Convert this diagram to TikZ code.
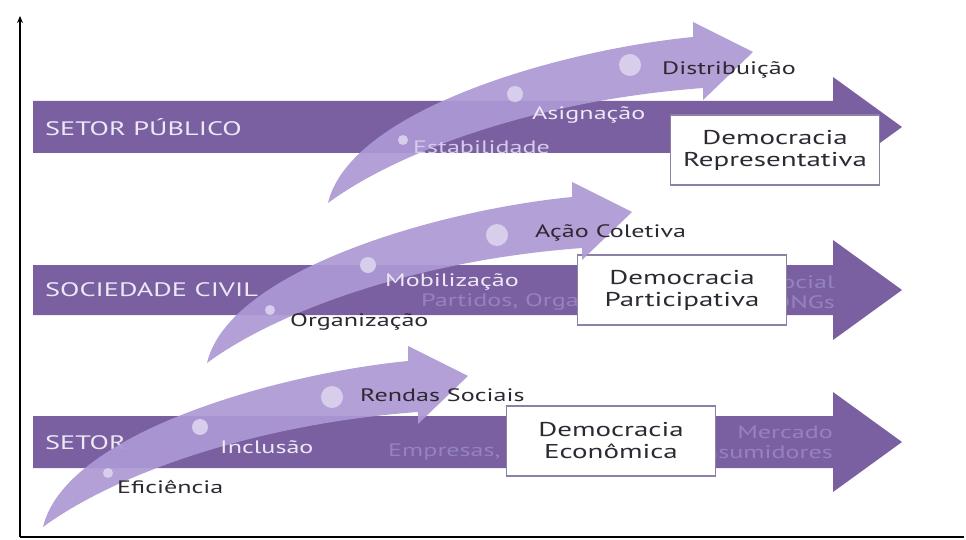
\documentclass[tikz,border=0pt]{standalone}
\usepackage{fontspec}
\setmainfont{PT Sans}[FakeStretch=1.45]
\usetikzlibrary{arrows.meta}
\definecolor{bandcol}{RGB}{122,96,160}
\definecolor{swcol}{RGB}{172,153,212}
\definecolor{dotcol}{RGB}{215,206,236}
\definecolor{txtdark}{RGB}{45,40,50}
\definecolor{txtlight}{RGB}{236,232,246}
\definecolor{txtpale}{RGB}{212,204,234}
\definecolor{txtfaint}{RGB}{150,130,192}
\definecolor{boxline}{RGB}{140,128,165}
\tikzset{
	band/.style={fill=bandcol},
	swoosh/.style={fill=swcol, fill opacity=0.93},
	dot/.style={fill=dotcol},
	demobox/.style={draw=boxline, line width=1.2pt, fill=white, minimum width=209pt, minimum height=70pt, align=center, inner sep=0pt, text=txtdark, font=\fontsize{20}{22}\selectfont},
	sector/.style={anchor=west, inner sep=0pt, text=txtlight, font=\fontsize{19.5}{22}\selectfont},
	darklbl/.style={anchor=west, inner sep=0pt, text=txtdark, font=\fontsize{18}{20}\selectfont},
	lightlbl/.style={anchor=west, inner sep=0pt, text=txtlight, font=\fontsize{18}{20}\selectfont},
	faintlbl/.style={inner sep=0pt, text=txtfaint, font=\fontsize{18}{20}\selectfont},
}
\begin{document}
\begin{tikzpicture}[x=1pt,y=-1pt]
	\useasboundingbox (0,0) rectangle (966,540);
	% axes
	\coordinate (orig) at (20,537);
	\coordinate (ytop) at (20,16);
	\coordinate (xend) at (964,537);
	\draw[line width=1.6pt,-{Stealth[length=7pt,width=6pt]}] (orig) -- (ytop);
	\draw[line width=1.6pt] (orig) -- (xend);
	% the three sector bands
	\foreach \c/\h in {127/26,290/25,442/26}
		\fill[band] (33,\c-\h) -- (833,\c-\h) -- (833,\c-50) -- (902,\c) -- (833,\c+50) -- (833,\c+\h) -- (33,\c+\h) -- cycle;
	\node[sector] (pub) at (45,127) {SETOR PÚBLICO};
	\node[sector] (civ) at (45,290) {SOCIEDADE CIVIL};
	\node[sector] (priv) at (45,443) {SETOR};
	% faint texts, partly hidden by the boxes
	\node[faintlbl,anchor=east] (partidos) at (579,302) {Partidos, Orga};
	\node[faintlbl,anchor=east] (social) at (835,282) {Social};
	\node[faintlbl,anchor=east] (ongs) at (835,302) {ONGs};
	\node[faintlbl,anchor=west] (empresas) at (388,452) {Empresas,};
	\node[faintlbl,anchor=east] (mercado) at (833,432) {Mercado};
	\node[faintlbl,anchor=east] (consum) at (833,452) {Consumidores};
	% boxes
	\node[demobox] (rep) at (775,150) {Democracia\\Representativa};
	\node[demobox] (part) at (682,290) {Democracia\\Participativa};
	\node[demobox] (econ) at (611,441) {Democracia\\Econômica};
	% rising arrows
	\foreach \tx/\ty in {328/203,207/363,43/527}
		\fill[swoosh,shift={(\tx,\ty)}] (0,0) .. controls (22,-93) and (232,-153) .. (365,-166) -- (365,-181) -- (425,-151) -- (375,-103) -- (375,-115) .. controls (212,-103) and (72,-53) .. (0,0) -- cycle;
	\foreach \dx/\dy/\r in {403/140/5,515/94/8,630/65/11,270/310/5,368/265/8,497/235/11,108/473/5,200/427/8,332/397/11}
		\fill[dot] (\dx,\dy) circle (\r);
	% stage labels
	\node[lightlbl,text=txtpale] (estab) at (413,147) {Estabilidade};
	\node[lightlbl] (asig) at (532,115) {Asignação};
	\node[darklbl] (distr) at (662,70) {Distribuição};
	\node[darklbl] (organ) at (290,322) {Organização};
	\node[lightlbl] (mobil) at (385,282) {Mobilização};
	\node[darklbl] (acao) at (535,233) {Ação Coletiva};
	\node[darklbl] (efic) at (117,487) {Eficiência};
	\node[lightlbl] (incl) at (220,447) {Inclusão};
	\node[darklbl] (rendas) at (360,395) {Rendas Sociais};
\end{tikzpicture}
\end{document}
